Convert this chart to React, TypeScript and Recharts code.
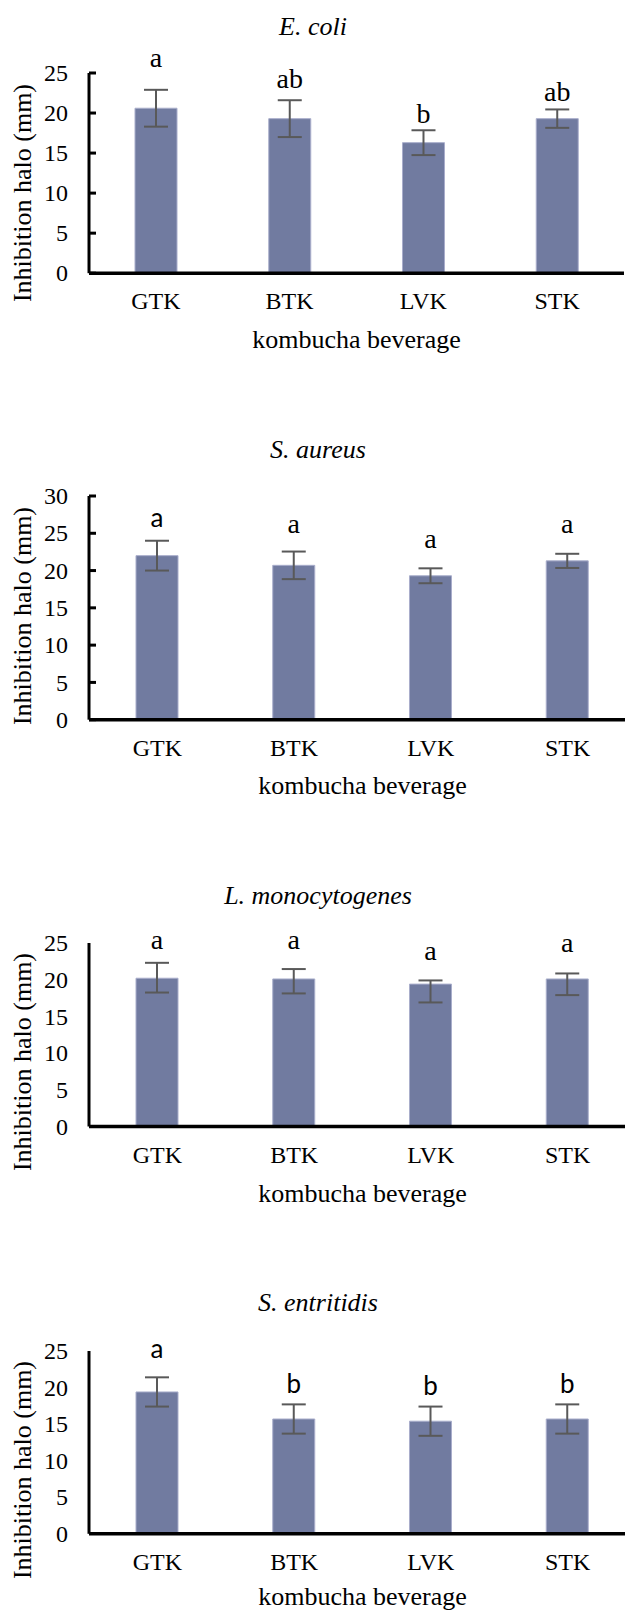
import React from "react";
import { BarChart, Bar, XAxis, YAxis, ErrorBar, LabelList } from "recharts";

const categories = ["GTK", "BTK", "LVK", "STK"];

// E. coli
const ecoliMean = [20.6, 19.3, 16.3, 19.3];
const ecoliErr = [2.3, 2.3, 1.55, 1.15];
const ecoliLetters = ["a", "ab", "b", "ab"];
const ecoliLetterAt = [26.6, 24.3, 19.9, 22.7];

// S. aureus
const aureusMean = [22.0, 20.7, 19.3, 21.3];
const aureusErr = [2.0, 1.85, 1.0, 0.95];
const aureusLetters = ["a", "a", "a", "a"];
const aureusLetterAt = [26.6, 25.9, 23.9, 25.9];

// L. monocytogenes ([below, above])
const monoMean = [20.2, 20.1, 19.4, 20.1];
const monoErr = [
  [1.95, 2.1],
  [1.97, 1.35],
  [2.5, 0.5],
  [2.2, 0.75],
];
const monoLetters = ["a", "a", "a", "a"];
const monoLetterAt = [25.1, 25.1, 23.5, 24.7];

// S. entritidis
const entMean = [19.4, 15.7, 15.4, 15.7];
const entErr = [2.0, 2.0, 2.0, 2.0];
const entLetters = ["a", "b", "b", "b"];
const entLetterAt = [24.9, 20.5, 20.2, 20.5];

const ticks25 = [0, 5, 10, 15, 20, 25];
const ticks30 = [0, 5, 10, 15, 20, 25, 30];

const SERIF = "'Liberation Serif', 'Times New Roman', serif";
const SANS = "Lato, 'Liberation Sans', sans-serif";
const BAR_FILL = "#717BA0";

const panels = [
  { title: "E. coli", mean: ecoliMean, err: ecoliErr, letters: ecoliLetters, letterAt: ecoliLetterAt, ticks: ticks25, sans: [] as number[] },
  { title: "S. aureus", mean: aureusMean, err: aureusErr, letters: aureusLetters, letterAt: aureusLetterAt, ticks: ticks30, sans: [0] },
  { title: "L. monocytogenes", mean: monoMean, err: monoErr, letters: monoLetters, letterAt: monoLetterAt, ticks: ticks25, sans: [] as number[] },
  { title: "S. entritidis", mean: entMean, err: entErr, letters: entLetters, letterAt: entLetterAt, ticks: ticks25, sans: [0, 1, 2, 3] },
];

// page positions of each panel
const layouts = [
  { plotTop: 72.5, baseline: 272.7, plotW: 535, marks: true, titleX: 313, titleY: 27, yLabelY: 193, xLabelGap: 67 },
  { plotTop: 495.7, baseline: 719.4, plotW: 547, marks: true, titleX: 318, titleY: 450, yLabelY: 616, xLabelGap: 67 },
  { plotTop: 943, baseline: 1126.5, plotW: 547, marks: false, titleX: 318, titleY: 896, yLabelY: 1062, xLabelGap: 67 },
  { plotTop: 1350.5, baseline: 1533.3, plotW: 547, marks: false, titleX: 318, titleY: 1303, yLabelY: 1470, xLabelGap: 64 },
];

const AXIS_X = 89;
const TOP_PAD = 60;

const textBox = {
  position: "absolute" as const,
  fontFamily: SERIF,
  fontSize: 26,
  lineHeight: "22px",
  whiteSpace: "nowrap" as const,
};

const Panel = ({ p, l }: { p: (typeof panels)[number]; l: (typeof layouts)[number] }) => {
  const data = categories.map((c, i) => ({ cat: c, mean: p.mean[i], err: p.err[i] }));
  const plotH = l.baseline - l.plotTop;
  const yMax = p.ticks[p.ticks.length - 1];

  const renderLetter = (props: any) => {
    const vb = props.viewBox ?? props;
    const { x, y, width, height } = vb;
    const i = props.index;
    const perUnit = height / p.mean[i];
    const cy = y + height - p.letterAt[i] * perUnit;
    const txt = p.letters[i];
    const sans = p.sans.includes(i);
    return (
      <text
        x={x + width / 2}
        y={cy}
        dy={txt.includes("b") ? "0.34em" : "0.23em"}
        textAnchor="middle"
        fontFamily={sans ? SANS : SERIF}
        fontSize={sans ? 26 : 28}
        fill="#000"
      >
        {txt}
      </text>
    );
  };

  return (
    <>
      <div
        style={{
          ...textBox,
          left: l.titleX,
          top: l.titleY,
          transform: "translate(-50%, -50%)",
          fontStyle: "italic",
        }}
      >
        {p.title}
      </div>
      <div
        style={{
          ...textBox,
          left: 23,
          top: l.yLabelY,
          transform: "translate(-50%, -50%) rotate(-90deg)",
        }}
      >
        Inhibition halo (mm)
      </div>
      <div
        style={{
          ...textBox,
          left: AXIS_X + l.plotW / 2,
          top: l.baseline + l.xLabelGap,
          transform: "translate(-50%, -50%)",
        }}
      >
        kombucha beverage
      </div>
      <div style={{ position: "absolute", left: 0, top: l.plotTop - TOP_PAD }}>
        <BarChart
          width={AXIS_X + l.plotW}
          height={TOP_PAD + plotH + 100}
          data={data}
          margin={{ top: TOP_PAD, right: 0, bottom: 70, left: AXIS_X - 60 }}
        >
          <XAxis
            dataKey="cat"
            height={30}
            tickLine={false}
            tickSize={0}
            tickMargin={0}
            axisLine={{ stroke: "#000", strokeWidth: 3.5 }}
            tick={(t: any) => (
              <text x={t.x} y={t.y + 36} textAnchor="middle" fontFamily={SERIF} fontSize={24} fill="#000">
                {t.payload.value}
              </text>
            )}
          />
          <YAxis
            width={60}
            domain={[0, yMax]}
            ticks={p.ticks}
            interval={0}
            tickLine={false}
            tickSize={0}
            tickMargin={0}
            axisLine={{ stroke: "#000", strokeWidth: 3 }}
            tick={(t: any) => (
              <g>
                {l.marks && <line x1={t.x} x2={t.x + 7} y1={t.y} y2={t.y} stroke="#000" strokeWidth={3} />}
                <text x={t.x - 21} y={t.y} dy="0.34em" textAnchor="end" fontFamily={SERIF} fontSize={24} fill="#000">
                  {t.payload.value}
                </text>
              </g>
            )}
          />
          <Bar dataKey="mean" barSize={42} fill={BAR_FILL} stroke="#A9AECB" strokeWidth={1} isAnimationActive={false}>
            <ErrorBar dataKey="err" width={12} strokeWidth={2} stroke="#595959" direction="y" isAnimationActive={false} />
            <LabelList dataKey="mean" content={renderLetter} />
          </Bar>
        </BarChart>
      </div>
    </>
  );
};

export default function App() {
  return (
    <div
      style={{
        position: "relative",
        width: 625,
        height: 1611,
        overflow: "hidden",
        background: "#fff",
        color: "#000",
      }}
    >
      <style>{"body{margin:0}"}</style>
      {panels.map((p, i) => (
        <Panel key={p.title} p={p} l={layouts[i]} />
      ))}
    </div>
  );
}
